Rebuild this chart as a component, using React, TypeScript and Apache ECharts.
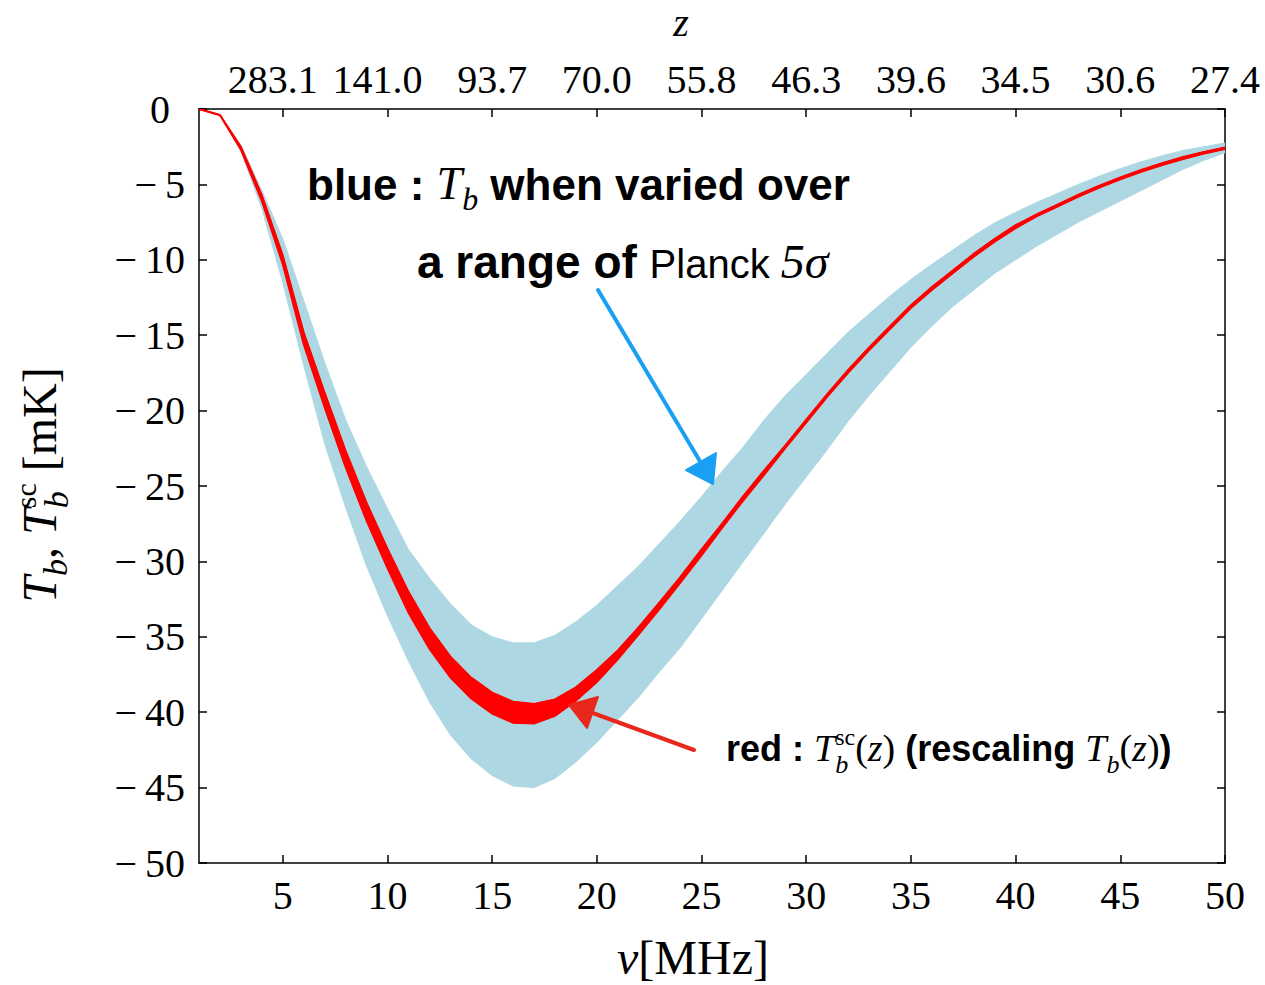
import React, { useEffect, useRef } from 'react';
import * as echarts from 'echarts';

// ---------- data ----------
const nuMHz = [
  1, 2, 3, 4, 5, 6, 7, 8, 9, 10,
  11, 12, 13, 14, 15, 16, 17, 18, 19, 20,
  21, 22, 23, 24, 25, 26, 27, 28, 29, 30,
  31, 32, 33, 34, 35, 36, 37, 38, 39, 40,
  41, 42, 43, 44, 45, 46, 47, 48, 49, 50,
];

// blue band: T_b over the Planck 5-sigma range (upper / lower envelope)
const blueUpper = [
  0, -0.35, -2.4, -5.4, -8.6, -12.7, -16.8, -20.6, -23.7, -26.5,
  -29.2, -31.1, -32.8, -34.2, -35.0, -35.4, -35.4, -34.9, -34.0, -32.9,
  -31.6, -30.3, -28.8, -27.3, -25.7, -24.0, -22.4, -20.6, -19.0, -17.6,
  -16.2, -14.8, -13.6, -12.4, -11.3, -10.3, -9.35, -8.4, -7.55, -6.85,
  -6.2, -5.6, -5.0, -4.45, -3.95, -3.5, -3.1, -2.75, -2.5, -2.25,
];
const blueLower = [
  0, -0.45, -2.8, -6.6, -11.5, -17.0, -22.2, -26.4, -30.3, -33.6,
  -36.6, -39.3, -41.5, -43.1, -44.2, -44.9, -45.0, -44.4, -43.3, -42.0,
  -40.5, -39.0, -37.3, -35.7, -33.8, -31.9, -30.0, -28.1, -26.2, -24.4,
  -22.6, -20.7, -19.0, -17.4, -15.8, -14.4, -13.1, -12.0, -10.9, -10.0,
  -9.1, -8.3, -7.5, -6.8, -6.1, -5.4, -4.7, -4.0, -3.4, -2.9,
];

// red band: rescaled T_b^sc(z) (upper / lower envelope)
const redUpper = [
  0, -0.4, -2.5, -5.7, -9.7, -14.8, -18.8, -22.65, -26.1, -29.15,
  -32.0, -34.4, -36.3, -37.7, -38.7, -39.3, -39.45, -39.15, -38.35, -37.2,
  -35.9, -34.35, -32.7, -31.0, -29.2, -27.45, -25.65, -23.95, -22.3, -20.6,
  -18.9, -17.3, -15.8, -14.4, -13.0, -11.8, -10.7, -9.6, -8.6, -7.7,
  -6.98, -6.33, -5.68, -5.08, -4.53, -4.03, -3.58, -3.18, -2.84, -2.54,
];
const redLower = [
  0, -0.4, -2.7, -6.1, -10.3, -15.6, -19.8, -23.75, -27.3, -30.45,
  -33.4, -35.8, -37.7, -39.1, -40.1, -40.7, -40.75, -40.25, -39.25, -38.0,
  -36.5, -34.85, -33.15, -31.4, -29.6, -27.75, -25.95, -24.25, -22.5, -20.8,
  -19.1, -17.5, -16.0, -14.6, -13.2, -12.0, -10.9, -9.8, -8.8, -7.9,
  -7.12, -6.47, -5.82, -5.22, -4.67, -4.17, -3.72, -3.32, -2.96, -2.66,
];

const xTickValues = [5, 10, 15, 20, 25, 30, 35, 40, 45, 50];
const zTickLabels = ['283.1', '141.0', '93.7', '70.0', '55.8', '46.3', '39.6', '34.5', '30.6', '27.4'];
const yMin = -50;
const yMax = 0;
const yStep = 5;

// ---------- text helpers ----------
const SERIF = 'Liberation Serif';
const SANS = 'Liberation Sans';
const TOP_Z = 100;

type Frag = {
  t: string;
  fam: string;
  size: number;
  bold?: boolean;
  italic?: boolean;
  dy?: number;
  noAdv?: boolean;
};

let measureCtx: CanvasRenderingContext2D | null = null;
function fontStr(f: Frag) {
  return `${f.italic ? 'italic ' : ''}${f.bold ? 'bold ' : ''}${f.size}px "${f.fam}"`;
}
function measure(f: Frag) {
  if (!measureCtx) measureCtx = document.createElement('canvas').getContext('2d');
  measureCtx!.font = fontStr(f);
  return measureCtx!.measureText(f.t).width;
}
function totalWidth(frags: Frag[]) {
  let x = 0;
  let pend = 0;
  for (const f of frags) {
    const w = measure(f);
    if (f.noAdv) pend = Math.max(pend, w);
    else {
      x += Math.max(w, pend);
      pend = 0;
    }
  }
  return x + pend;
}
function layout(x0: number, baseline: number, frags: Frag[], color: string) {
  const els: any[] = [];
  let x = x0;
  let pend = 0;
  for (const f of frags) {
    const w = measure(f);
    els.push({
      type: 'text',
      x,
      y: baseline + (f.dy || 0) - 0.35 * f.size,
      z: TOP_Z,
      silent: true,
      style: {
        text: f.t,
        fill: color,
        fontSize: f.size,
        fontFamily: f.fam,
        fontWeight: f.bold ? 'bold' : 'normal',
        fontStyle: f.italic ? 'italic' : 'normal',
        textAlign: 'left',
        textVerticalAlign: 'middle',
        align: 'left',
        verticalAlign: 'middle',
      },
    });
    if (f.noAdv) pend = Math.max(pend, w);
    else {
      x += Math.max(w, pend);
      pend = 0;
    }
  }
  return els;
}

function buildGraphics() {
  const els: any[] = [];

  // annotation: blue
  els.push(
    ...layout(307, 200, [
      { t: 'blue : ', fam: SANS, size: 44, bold: true },
      { t: 'T', fam: SERIF, size: 46, italic: true },
      { t: 'b', fam: SERIF, size: 32, italic: true, dy: 10 },
      { t: ' when varied over', fam: SANS, size: 44, bold: true },
    ], '#000'),
  );
  els.push(
    ...layout(417, 278, [
      { t: 'a range of ', fam: SANS, size: 46, bold: true },
      { t: 'Planck ', fam: SANS, size: 40 },
      { t: '5', fam: SERIF, size: 48, italic: true },
      { t: 'σ', fam: SERIF, size: 48, italic: true },
    ], '#000'),
  );

  // annotation: red
  els.push(
    ...layout(726, 761, [
      { t: 'red : ', fam: SANS, size: 36, bold: true },
      { t: 'T', fam: SERIF, size: 38, italic: true },
      { t: 'sc', fam: SERIF, size: 24, dy: -16, noAdv: true },
      { t: 'b', fam: SERIF, size: 26, italic: true, dy: 13 },
      { t: '(', fam: SERIF, size: 38 },
      { t: 'z', fam: SERIF, size: 38, italic: true },
      { t: ')', fam: SERIF, size: 38 },
      { t: ' (rescaling ', fam: SANS, size: 36, bold: true },
      { t: 'T', fam: SERIF, size: 38, italic: true },
      { t: 'b', fam: SERIF, size: 26, italic: true, dy: 13 },
      { t: '(', fam: SERIF, size: 38 },
      { t: 'z', fam: SERIF, size: 38, italic: true },
      { t: ')', fam: SERIF, size: 38 },
      { t: ')', fam: SANS, size: 36, bold: true },
    ], '#000'),
  );

  // x-axis title
  const xTitle: Frag[] = [
    { t: 'ν', fam: SERIF, size: 48, italic: true },
    { t: '[MHz]', fam: SERIF, size: 48 },
  ];
  els.push(...layout(693 - totalWidth(xTitle) / 2, 974, xTitle, '#000'));

  // top axis title
  const zTitle: Frag[] = [{ t: 'z', fam: SERIF, size: 40, italic: true }];
  els.push(...layout(681 - totalWidth(zTitle) / 2, 36, zTitle, '#000'));

  // y-axis title (rotated)
  const yTitle: Frag[] = [
    { t: 'T', fam: SERIF, size: 48, italic: true },
    { t: 'b', fam: SERIF, size: 34, italic: true, dy: 12 },
    { t: ', ', fam: SERIF, size: 48 },
    { t: 'T', fam: SERIF, size: 48, italic: true },
    { t: 'sc', fam: SERIF, size: 30, dy: -20, noAdv: true },
    { t: 'b', fam: SERIF, size: 34, italic: true, dy: 13 },
    { t: ' [mK]', fam: SERIF, size: 48 },
  ];
  const tw = totalWidth(yTitle);
  els.push({
    type: 'group',
    x: 40,
    y: 485,
    rotation: Math.PI / 2,
    z: TOP_Z,
    children: layout(-tw / 2, 0.33 * 48, yTitle, '#000'),
  });

  // arrows
  const blueArrow = '#1aa0f2';
  const redArrow = '#e8281c';
  els.push({
    type: 'line',
    silent: true,
    z: TOP_Z,
    shape: { x1: 598, y1: 290, x2: 701, y2: 463 },
    style: { stroke: blueArrow, lineWidth: 4, lineCap: 'round' },
  });
  els.push({
    type: 'polygon',
    silent: true,
    z: TOP_Z,
    shape: { points: [[686, 470], [716, 453], [713, 484]] },
    style: { fill: blueArrow, stroke: blueArrow, lineWidth: 2, lineJoin: 'round' },
  });
  els.push({
    type: 'line',
    silent: true,
    z: TOP_Z,
    shape: { x1: 694, y1: 750, x2: 590, y2: 712 },
    style: { stroke: redArrow, lineWidth: 4, lineCap: 'round' },
  });
  els.push({
    type: 'polygon',
    silent: true,
    z: TOP_Z,
    shape: { points: [[569, 705], [598, 697], [587, 728]] },
    style: { fill: redArrow, stroke: redArrow, lineWidth: 2, lineJoin: 'round' },
  });

  return els;
}

// band renderer: polygon between upper and lower envelopes, through the axes' scales
function bandSeries(upper: number[], lower: number[], fill: string, edge: number, z: number) {
  return {
    type: 'custom',
    xAxisIndex: 0,
    yAxisIndex: 0,
    silent: true,
    clip: true,
    z,
    data: [[nuMHz[0], upper[0]]],
    renderItem: (_params: any, api: any) => {
      const up = nuMHz.map((n, i) => api.coord([n, upper[i]]));
      const lo = nuMHz.map((n, i) => api.coord([n, lower[i]]));
      const children: any[] = [
        {
          type: 'polygon',
          shape: { points: up.concat(lo.slice().reverse()) },
          style: { fill, stroke: fill, lineWidth: 1 },
        },
      ];
      if (edge > 0) {
        children.push({ type: 'polyline', shape: { points: up }, style: { fill: 'none', stroke: fill, lineWidth: edge } });
        children.push({ type: 'polyline', shape: { points: lo }, style: { fill: 'none', stroke: fill, lineWidth: edge } });
      }
      return { type: 'group', children };
    },
  };
}

// ---------- component ----------
export default function App() {
  const ref = useRef<HTMLDivElement>(null);

  useEffect(() => {
    document.body.style.margin = '0';
    if (!ref.current) return;
    const chart = echarts.init(ref.current, undefined, { renderer: 'svg' });

    const axisLine = { show: true, onZero: false, lineStyle: { color: '#000', width: 1.5 } };
    const tickStyle = { color: '#000', width: 1.5 };
    const labelFont = { fontFamily: SERIF, fontSize: 40, color: '#000' };

    const option: any = {
      animation: false,
      backgroundColor: '#ffffff',
      grid: { left: 199, right: 40, top: 109, bottom: 122, containLabel: false, outerBoundsMode: 'none' },
      xAxis: [
        {
          type: 'value',
          min: 1,
          max: 50,
          position: 'bottom',
          axisLine,
          axisTick: { show: true, inside: true, length: 8, customValues: xTickValues, lineStyle: tickStyle },
          axisLabel: { ...labelFont, customValues: xTickValues, margin: 12 },
          splitLine: { show: false },
        },
        {
          type: 'value',
          min: 1,
          max: 50,
          position: 'top',
          axisLine,
          axisTick: { show: true, inside: true, length: 8, customValues: xTickValues, lineStyle: tickStyle },
          axisLabel: {
            ...labelFont,
            customValues: xTickValues,
            margin: 10,
            formatter: (v: number) => {
              const i = xTickValues.indexOf(Math.round(v));
              const s = i >= 0 ? zTickLabels[i] : '';
              return s.length > 4 ? `{w|${s}}` : s;
            },
            rich: { w: { ...labelFont, padding: [0, 20, 0, 0] } },
          },
          splitLine: { show: false },
        },
      ],
      yAxis: [
        {
          type: 'value',
          min: yMin,
          max: yMax,
          interval: yStep,
          position: 'left',
          axisLine,
          axisTick: { show: true, inside: true, length: 8, lineStyle: tickStyle },
          axisLabel: {
            ...labelFont,
            margin: 14,
            formatter: (v: number) => (v === 0 ? '{z|0}' : `\u2212\u2009${Math.abs(v)}`),
            rich: { z: { ...labelFont, padding: [0, 15, 0, 0] } },
          },
          splitLine: { show: false },
        },
        {
          type: 'value',
          min: yMin,
          max: yMax,
          interval: yStep,
          position: 'right',
          axisLine,
          axisTick: { show: true, inside: true, length: 8, lineStyle: tickStyle },
          axisLabel: { show: false },
          splitLine: { show: false },
        },
      ],
      series: [
        bandSeries(blueUpper, blueLower, '#add8e3', 0, 2),
        bandSeries(redUpper, redLower, '#ff0000', 1.8, 3),
      ],
      graphic: { elements: buildGraphics() },
    };

    chart.setOption(option);
    return () => {
      chart.dispose();
    };
  }, []);

  return <div ref={ref} style={{ width: 1265, height: 985 }} />;
}
